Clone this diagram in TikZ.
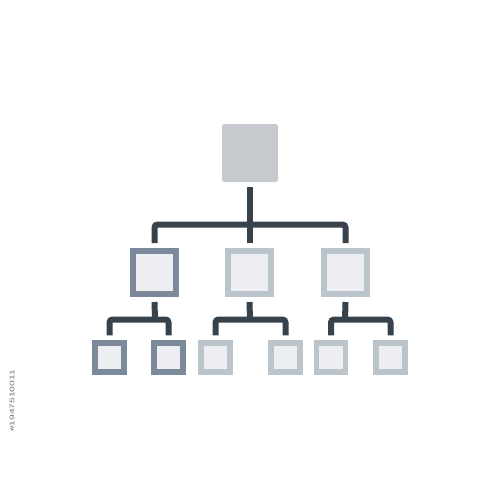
\documentclass[tikz,border=0pt]{standalone}
\usepackage{graphicx}
\usepackage{fontspec}
\setmainfont{Liberation Sans}
\definecolor{linec}{HTML}{38424C}
\definecolor{darkb}{HTML}{7B899B}
\definecolor{lightb}{HTML}{BBC4CB}
\definecolor{boxfill}{HTML}{ECEEF1}
\definecolor{topfill}{HTML}{C6C9CE}
\definecolor{idgray}{HTML}{707070}
\begin{document}
\begin{tikzpicture}[x=1pt,y=-1pt,
  conn/.style={draw=linec,line width=6pt,rounded corners=3pt},
  midbox/.style={fill=boxfill,line width=6pt,minimum size=43pt,inner sep=0pt},
  lowbox/.style={fill=boxfill,line width=5.5pt,minimum size=29pt,inner sep=0pt},
  darkbox/.style={draw=darkb},
  lightbox/.style={draw=lightb}]
\useasboundingbox (0,0) rectangle (500,500);
\fill[white] (0,0) rectangle (500,500);
% root
\node[fill=topfill,rounded corners=2.5pt,minimum width=56pt,minimum height=58pt,inner sep=0pt,outer sep=0pt] (top) at (250,153) {};
% middle level
\node[midbox,darkbox] (m1) at (154.5,272.5) {};
\node[midbox,lightbox] (m2) at (249.5,272.5) {};
\node[midbox,lightbox] (m3) at (345.5,272.5) {};
% bottom level
\node[lowbox,darkbox] (b1) at (109.5,357.5) {};
\node[lowbox,darkbox] (b2) at (168.5,357.5) {};
\node[lowbox,lightbox] (b3) at (215.5,357.5) {};
\node[lowbox,lightbox] (b4) at (285.5,357.5) {};
\node[lowbox,lightbox] (b5) at (331,357.5) {};
\node[lowbox,lightbox] (b6) at (390.5,357.5) {};
% junctions
\coordinate (j0) at (250,224.5);
\coordinate (j1) at (155,319.5);
\coordinate (j2) at (250,319.5);
\coordinate (j3) at (345,319.5);
% top connectors
\draw[conn] ([yshift=-5pt]top.south) -- (j0);
\draw[conn] ([yshift=5pt]m1.north) -- (m1.north |- j0) -- (m3.north |- j0) -- ([yshift=5pt]m3.north);
\draw[conn] (m2.north |- j0) -- ([yshift=5pt]m2.north);
% lower connectors
\draw[conn] ([yshift=-5pt]m1.south) -- (j1);
\draw[conn] ([yshift=5pt]b1.north) -- (b1.north |- j1) -- (b2.north |- j1) -- ([yshift=5pt]b2.north);
\draw[conn] ([yshift=-5pt]m2.south) -- (j2);
\draw[conn] ([yshift=5pt]b3.north) -- (b3.north |- j2) -- (b4.north |- j2) -- ([yshift=5pt]b4.north);
\draw[conn] ([yshift=-5pt]m3.south) -- (j3);
\draw[conn] ([yshift=5pt]b5.north) -- (b5.north |- j3) -- (b6.north |- j3) -- ([yshift=5pt]b6.north);
% stock id
\node[text=idgray,inner sep=0pt] (id) at (12,401) {\rotatebox{90}{\scalebox{1.7}[1.1]{\fontsize{6}{6}\selectfont \#1947510011}}};
\end{tikzpicture}
\end{document}
